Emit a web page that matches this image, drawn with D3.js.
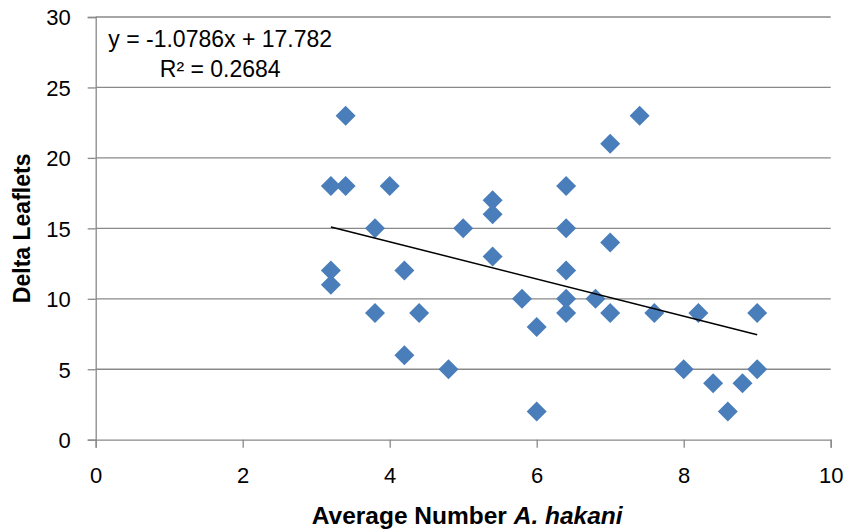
<!DOCTYPE html>
<html>
<head>
<meta charset="utf-8">
<script src="https://cdn.jsdelivr.net/npm/d3@7"></script>
<style>
  body { margin: 0; background: #fff; }
  svg text { font-family: "Liberation Sans", Arial, sans-serif; fill: #000; }
</style>
</head>
<body>
<div id="scatter"></div>
<script>
// values
var avgHakani = [3.2, 3.4, 3.4, 4.0, 3.8, 7.4, 7.0, 6.4, 5.4, 5.4, 5.0, 6.4, 7.0, 5.4,
                 3.2, 3.2, 4.2, 3.8, 4.4, 4.2, 6.4, 5.8, 6.4, 6.8, 6.4, 7.0, 7.6, 8.2,
                 9.0, 6.0, 4.8, 8.0, 9.0, 8.4, 8.8, 6.0, 8.6];
var deltaLeaflets = [18, 18, 23, 18, 15, 23, 21, 18, 17, 16, 15, 15, 14, 13,
                     12, 11, 12, 9, 9, 6, 12, 10, 10, 10, 9, 9, 9, 9,
                     9, 8, 5, 5, 5, 4, 4, 2, 2];
// trend line as drawn (endpoints)
var trendX = [3.2, 9.0];
var trendY = [15.1, 7.45];
var xTicks = [0, 2, 4, 6, 8, 10];
var yTicks = [0, 5, 10, 15, 20, 25, 30];
var equationLines = ["y = -1.0786x + 17.782", "R² = 0.2684"];

function Plot() {
    var svgWidth = 848;
    var svgHeight = 531;
    var margin = { top: 17, right: 17.3, bottom: 91.3, left: 95.7 };
    var width = svgWidth - margin.left - margin.right;
    var height = svgHeight - margin.top - margin.bottom;

    var svg = d3.select("#scatter")
        .append("svg")
        .attr("width", svgWidth)
        .attr("height", svgHeight);

    var chart = svg.append("g")
        .attr("transform", `translate(${margin.left}, ${margin.top})`);

    var x = d3.scaleLinear().domain([0, 10]).range([0, width]);
    var y = d3.scaleLinear().domain([0, 30]).range([height, 0]);

    // horizontal gridlines
    chart.append("g")
        .selectAll("line")
        .data(yTicks.filter(d => d > 0))
        .enter()
        .append("line")
        .attr("x1", 0)
        .attr("x2", width)
        .attr("y1", d => y(d))
        .attr("y2", d => y(d))
        .attr("stroke", "#898989")
        .attr("stroke-width", 1.3);

    // axes
    var xAxis = chart.append("g")
        .attr("transform", `translate(0, ${height})`)
        .call(d3.axisBottom(x).tickValues(xTicks).tickSize(8).tickPadding(20).tickFormat(d3.format("d")));
    var yAxis = chart.append("g")
        .call(d3.axisLeft(y).tickValues(yTicks).tickSize(8).tickPadding(17).tickFormat(d3.format("d")));

    [xAxis, yAxis].forEach(function(ax) {
        ax.select(".domain").attr("stroke", "#898989").attr("stroke-width", 1.3);
        ax.selectAll(".tick line").attr("stroke", "#898989").attr("stroke-width", 1.3);
        ax.selectAll(".tick text")
            .attr("font-family", "Liberation Sans, Arial, sans-serif")
            .attr("font-size", "22px")
            .attr("fill", "#000");
    });
    yAxis.selectAll(".tick text").attr("dy", "0.36em");

    // diamonds
    var pts = avgHakani.map((v, i) => ({ x: v, y: deltaLeaflets[i] }));
    chart.append("g")
        .selectAll("path")
        .data(pts)
        .enter()
        .append("path")
        .attr("d", d3.symbol().type(d3.symbolSquare).size(200))
        .attr("transform", d => `translate(${x(d.x)}, ${y(d.y)}) rotate(45)`)
        .attr("fill", "#4A7EBB");

    // trend line
    chart.append("path")
        .datum(trendX.map((v, i) => [v, trendY[i]]))
        .attr("d", d3.line().x(d => x(d[0])).y(d => y(d[1])))
        .attr("fill", "none")
        .attr("stroke", "#000")
        .attr("stroke-width", 1.5);

    // equation label
    chart.append("text")
        .attr("text-anchor", "middle")
        .attr("font-size", "23px")
        .selectAll("tspan")
        .data(equationLines)
        .enter()
        .append("tspan")
        .attr("x", 124.5)
        .attr("y", (d, i) => 29.5 + i * 30)
        .text(d => d);

    // axis titles
    chart.append("text")
        .attr("transform", `translate(${30 - margin.left}, ${height / 2}) rotate(-90)`)
        .attr("text-anchor", "middle")
        .attr("font-size", "23px")
        .attr("font-weight", "bold")
        .text("Delta Leaflets");

    var xTitle = chart.append("text")
        .attr("x", width / 2 + 4)
        .attr("y", height + 84)
        .attr("text-anchor", "middle")
        .attr("font-size", "24.5px")
        .attr("font-weight", "bold");
    xTitle.append("tspan").text("Average Number ");
    xTitle.append("tspan").attr("font-style", "italic").text("A. hakani");
}

Plot();
</script>
</body>
</html>
